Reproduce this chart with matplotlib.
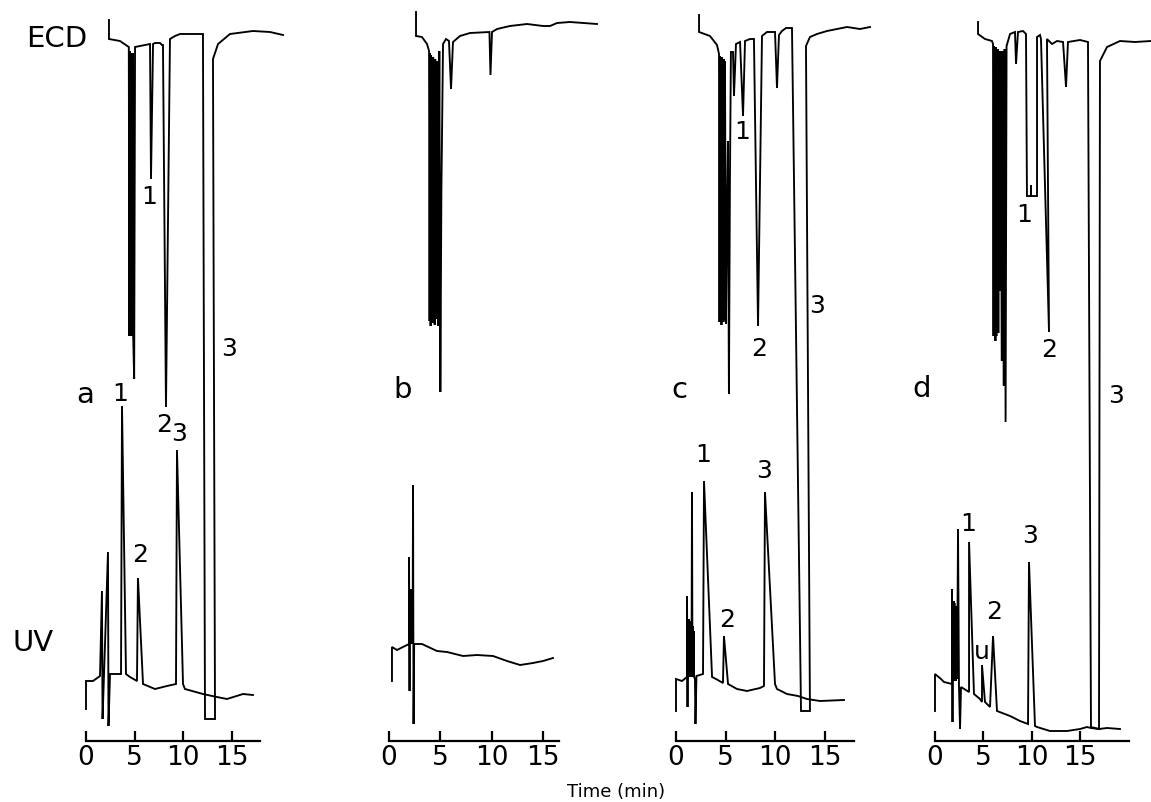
import matplotlib
matplotlib.use("Agg")
import matplotlib.pyplot as plt

# ---------------- data (time in min, response in arbitrary units) ----------------
# Panel a
ecd_a_t = [2.36, 2.36, 3.49, 4.40, 4.45, 4.50, 4.55, 4.60, 4.65, 4.70, 4.75, 4.80, 4.85, 4.95, 5.04,
           6.58, 6.68, 6.89, 7.09, 7.61, 7.81, 7.91, 8.22, 8.63, 9.15, 9.66, 12.02,
           12.23, 13.26, 13.05, 13.57, 14.80, 17.16, 18.91, 20.25]
ecd_a_r = [721, 702, 700, 694, 405, 690, 408, 688, 405, 686, 410, 688, 405, 362, 694,
           697, 562, 697, 698, 698, 696, 696, 334, 702, 705, 707, 707,
           22, 22, 682, 697, 707, 710, 709, 706]
uv_a_t = [0.0, 0.0, 0.72, 1.44, 1.64, 1.70, 1.85, 2.26, 2.31, 2.47, 3.60, 3.70, 4.11, 4.52,
          5.24, 5.34, 5.86, 7.09, 8.32, 9.25, 9.35, 9.97, 10.17, 12.02, 13.46, 14.49, 16.14, 17.16]
uv_a_r = [32, 60, 60, 65, 150, 22, 66, 189, 15, 67, 67, 335, 67, 64,
          60, 163, 57, 52, 55, 57, 291, 57, 52, 47, 44, 42, 47, 46]

# Panel b
ecd_b_t = [2.63, 2.63, 3.21, 3.70, 3.90, 3.95, 4.00, 4.05, 4.10, 4.15, 4.20, 4.25, 4.30, 4.35,
           4.40, 4.45, 4.50, 4.55, 4.60, 4.65, 4.75, 4.80, 4.90, 5.00, 5.10, 5.26,
           5.55, 5.84, 6.04, 6.23, 6.91, 7.89, 9.78, 9.88, 10.03, 10.52, 11.78, 13.44,
           15.00, 15.68, 16.36, 17.62, 20.25]
ecd_b_r = [729, 705, 704, 697, 690, 420, 688, 415, 686, 425, 684, 418, 684, 420,
           682, 416, 682, 422, 680, 430, 680, 415, 690, 349, 549, 697,
           702, 700, 652, 699, 705, 708, 709, 666, 709, 712, 715, 717,
           715, 715, 718, 719, 717]
uv_b_t = [0.29, 0.29, 0.78, 1.36, 1.95, 1.95, 2.00, 2.03, 2.06, 2.09, 2.12, 2.15, 2.18, 2.21,
          2.24, 2.27, 2.30, 2.34, 2.39, 2.45, 2.53, 3.21, 4.67, 5.65, 7.21, 8.57, 10.13,
          11.49, 12.76, 14.02, 15.00, 15.97]
uv_b_r = [60, 94, 91, 94, 97, 184, 50, 152, 97, 152, 97, 150, 97, 150,
          98, 148, 100, 256, 17, 97, 97, 97, 90, 89, 85, 86, 85,
          80, 76, 78, 80, 83]

# Panel c
ecd_c_t = [2.32, 2.32, 3.42, 4.13, 4.33, 4.38, 4.43, 4.48, 4.53, 4.58, 4.63, 4.68, 4.73, 4.78,
           4.83, 4.88, 4.93, 5.03, 5.13, 5.23, 5.33, 5.43, 5.53, 5.74, 5.84, 6.04, 6.45,
           6.75, 6.95, 7.45, 7.85, 8.26, 8.66, 9.16, 9.97, 10.17, 10.37, 10.67, 11.08,
           11.68, 12.59, 13.49, 13.09, 13.49, 14.20, 15.21, 17.22, 18.53, 19.54]
ecd_c_r = [726, 709, 705, 696, 687, 419, 685, 422, 684, 416, 684, 425, 682, 419,
           682, 421, 680, 417, 522, 600, 347, 560, 689, 689, 645, 697, 699,
           625, 700, 702, 702, 415, 705, 709, 709, 653, 706, 710, 713,
           713, 30, 30, 695, 704, 707, 710, 714, 712, 714]
uv_c_t = [0.0, 0.0, 0.60, 1.11, 1.11, 1.16, 1.20, 1.24, 1.28, 1.32, 1.36, 1.40, 1.44, 1.48,
          1.52, 1.56, 1.61, 1.66, 1.70, 1.74, 1.78, 1.82, 1.91, 1.96, 2.06, 2.72, 2.82,
          3.63, 4.03, 4.73, 4.83, 5.24, 6.14, 7.15, 8.46, 8.86, 8.96, 9.97, 10.17, 11.18,
          12.29, 13.19, 14.50, 16.92]
uv_c_r = [30, 62, 60, 64, 145, 34, 122, 64, 122, 64, 120, 64, 120, 64,
          118, 64, 249, 64, 115, 64, 110, 64, 62, 17, 65, 67, 260,
          64, 62, 58, 105, 57, 52, 50, 53, 55, 249, 57, 52, 47,
          45, 42, 40, 41]

# Panel d
ecd_d_t = [4.45, 4.45, 5.17, 5.89, 6.00, 6.05, 6.10, 6.15, 6.20, 6.25, 6.30, 6.35, 6.40, 6.45,
           6.50, 6.55, 6.60, 6.70, 6.80, 6.90, 7.00, 7.10, 7.20, 7.30, 7.40, 7.55,
           7.76, 8.27, 8.38, 8.58, 9.10, 9.41, 9.51, 9.93, 9.93, 9.93, 10.55, 10.55,
           10.86, 10.96, 11.79, 11.58, 12.10, 12.62, 13.24, 13.55, 13.75, 15.00, 15.82,
           16.13, 16.96, 17.06, 17.79, 19.13, 20.68, 22.34]
ecd_d_r = [719, 707, 702, 700, 697, 405, 695, 410, 694, 400, 694, 405, 692, 412,
           692, 408, 690, 450, 690, 380, 690, 355, 692, 319, 695, 700,
           707, 709, 677, 709, 710, 707, 545, 545, 556, 545, 545, 704,
           706, 702, 409, 702, 697, 700, 699, 654, 699, 701, 699,
           14, 12, 680, 694, 700, 699, 700]
uv_d_t = [0.0, 0.0, 0.62, 0.93, 1.76, 1.76, 1.81, 1.85, 1.89, 1.93, 1.97, 2.01, 2.05, 2.09,
          2.13, 2.17, 2.21, 2.25, 2.29, 2.38, 2.48, 2.59, 2.69, 3.52, 3.52, 4.03, 4.65,
          4.86, 4.86, 5.17, 5.38, 5.69, 6.00, 6.41, 7.76, 8.79, 9.62, 9.72, 10.34, 10.55,
          11.89, 13.65, 15.00, 15.72, 16.13, 16.96, 17.79, 19.13]
uv_d_r = [30, 67, 62, 59, 57, 152, 19, 140, 60, 140, 60, 138, 60, 135,
          60, 135, 62, 130, 62, 212, 55, 12, 54, 49, 199, 47, 42,
          39, 76, 39, 37, 34, 105, 30, 25, 20, 17, 179, 15, 14,
          10, 10, 12, 14, 13, 12, 13, 12]

# peak labels: (text, time, response)
labels_a = [("1", 6.53, 545), ("2", 8.02, 317), ("3", 14.70, 393),
            ("1", 3.50, 348), ("2", 5.55, 187), ("3", 9.56, 308)]
labels_b = []
labels_c = [("1", 6.70, 610), ("2", 8.36, 393), ("3", 14.25, 436),
            ("1", 2.77, 287), ("2", 5.14, 122), ("3", 8.86, 271)]
labels_d = [("1", 9.20, 527), ("2", 11.79, 392), ("3", 18.72, 346),
            ("1", 3.46, 218), ("u", 4.81, 90), ("2", 6.10, 130), ("3", 9.82, 206)]

panel_names = ["a", "b", "c", "d"]
time_ticks = [0, 5, 10, 15]
axis_end = [17.9, 16.6, 17.9, 20.06]

# ---------------- layout ----------------
W, H = 1151, 803
fig = plt.figure(figsize=(W / 100, H / 100), dpi=100)
fig.patch.set_facecolor("white")

t0_px = [86, 389, 676, 935]
px_per_min = [9.73, 10.27, 9.93, 9.67]
axis_y_px = 742
xmin, xmax = -1.5, 23.0

traces = [(ecd_a_t, ecd_a_r, uv_a_t, uv_a_r, labels_a),
          (ecd_b_t, ecd_b_r, uv_b_t, uv_b_r, labels_b),
          (ecd_c_t, ecd_c_r, uv_c_t, uv_c_r, labels_c),
          (ecd_d_t, ecd_d_r, uv_d_t, uv_d_r, labels_d)]

for i, (et, er, ut, ur, labs) in enumerate(traces):
    left = (t0_px[i] + xmin * px_per_min[i]) / W
    width = (xmax - xmin) * px_per_min[i] / W
    ax = fig.add_axes([left, (H - axis_y_px) / H, width, axis_y_px / H])
    ax.patch.set_visible(False)
    ax.set_xlim(xmin, xmax)
    ax.set_ylim(0, axis_y_px)
    ax.plot(et, er, color="black", lw=1.35, solid_joinstyle="miter")
    ax.plot(ut, ur, color="black", lw=1.35, solid_joinstyle="miter")
    for txt, tt, rr in labs:
        ax.text(tt, rr, txt, ha="center", va="center", fontsize=18)
    for s in ["top", "right", "left"]:
        ax.spines[s].set_visible(False)
    ax.spines["bottom"].set_bounds(0, axis_end[i])
    ax.spines["bottom"].set_linewidth(1.6)
    ax.set_yticks([])
    ax.set_xticks(time_ticks)
    ax.set_xticklabels([str(v) for v in time_ticks], fontsize=19)
    ax.tick_params(axis="x", direction="in", length=7.5, width=1.6, pad=2)

letter_px = [(85, 395), (403, 390), (679, 390), (922, 389)]
for name, (px, py) in zip(panel_names, letter_px):
    fig.text(px / W, 1 - py / H, name, ha="center", va="center", fontsize=21)

fig.text(57 / W, 1 - 39 / H, "ECD", ha="center", va="center", fontsize=21)
fig.text(33 / W, 1 - 643 / H, "UV", ha="center", va="center", fontsize=21)
fig.text(616 / W, 1 - 792 / H, "Time (min)", ha="center", va="center", fontsize=13)

fig.savefig("out.png", dpi=100, facecolor="white")
